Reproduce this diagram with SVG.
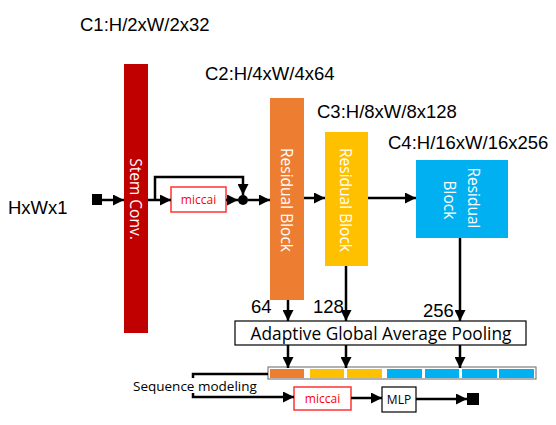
<svg xmlns="http://www.w3.org/2000/svg" width="556" height="425" viewBox="0 0 556 425">
<style>
.lbl{font-family:"Liberation Sans",Arial,sans-serif;font-size:18.5px;fill:#000}
.blk{font-family:"Open Sans","Noto Sans",sans-serif;font-size:15.5px;fill:#fff}
.ln{fill:none;stroke:#000;stroke-width:2.5}
.mic{fill:#fff;stroke:#ff3333;stroke-width:1.5}
.mict{font-family:"Open Sans","Noto Sans",sans-serif;font-size:12px;fill:#ff0000}
.sans{font-family:"Open Sans","Noto Sans",sans-serif;fill:#000}
</style>
<defs>
<marker id="ah" viewBox="0 0 10 10" refX="10" refY="5" markerWidth="12" markerHeight="11" markerUnits="userSpaceOnUse" orient="auto">
<path d="M0,0 L10,5 L0,10 Z" fill="#000"/>
</marker>
</defs>
<rect width="556" height="425" fill="#fff"/>

<g id="labels">
<text class="lbl" x="8" y="214" font-size="19">HxWx1</text>
<text class="lbl" x="80" y="31">C1:H/2xW/2x32</text>
<text class="lbl" x="205" y="80">C2:H/4xW/4x64</text>
<text class="lbl" x="317" y="118">C3:H/8xW/8x128</text>
<text class="lbl" x="388" y="149">C4:H/16xW/16x256</text>
<text class="lbl" x="251" y="313">64</text>
<text class="lbl" x="313" y="313">128</text>
<text class="lbl" x="423" y="317">256</text>
</g>

<g id="input">
<rect x="92" y="194" width="10" height="11" fill="#000"/>
</g>

<g id="stem">
<rect x="124" y="64" width="24" height="269" fill="#c00000"/>
<text class="blk" transform="translate(136,199) rotate(90)" text-anchor="middle" dominant-baseline="central">Stem Conv.</text>
</g>

<g id="miccai1">
<rect class="mic" x="171" y="187" width="55" height="25"/>
<text class="mict" x="198.5" y="204" text-anchor="middle">miccai</text>
</g>

<g id="junction">
<circle cx="243" cy="200" r="5" fill="#000"/>
</g>

<g id="res1">
<rect x="270" y="98" width="34" height="202" fill="#ed7d31"/>
<text class="blk" transform="translate(287,200) rotate(90)" text-anchor="middle" dominant-baseline="central">Residual Block</text>
</g>

<g id="res2">
<rect x="325" y="132" width="43" height="134" fill="#ffc000"/>
<text class="blk" transform="translate(346,200) rotate(90)" text-anchor="middle" dominant-baseline="central">Residual Block</text>
</g>

<g id="res3">
<rect x="416" y="160" width="92" height="78" fill="#00b0f0"/>
<text class="blk" transform="translate(461,200) rotate(90)" text-anchor="middle">
<tspan x="0" y="-7">Residual</tspan>
<tspan x="0" y="17">Block</tspan>
</text>
</g>

<g id="pool">
<rect x="235" y="321" width="291" height="24" fill="#fff" stroke="#000" stroke-width="1.2"/>
<text class="sans" x="381" y="339.5" text-anchor="middle" font-size="17.3">Adaptive Global Average Pooling</text>
</g>

<g id="bar">
<rect x="268" y="367" width="268" height="12" fill="#fff" stroke="#7f7f7f" stroke-width="1.2"/>
<rect x="270" y="369" width="34" height="9" fill="#ed7d31"/>
<rect x="310" y="369" width="34" height="9" fill="#ffc000"/>
<rect x="347" y="369" width="35" height="9" fill="#ffc000"/>
<rect x="387" y="369" width="35" height="9" fill="#00b0f0"/>
<rect x="425" y="369" width="34" height="9" fill="#00b0f0"/>
<rect x="462" y="369" width="35" height="9" fill="#00b0f0"/>
<rect x="499" y="369" width="35" height="9" fill="#00b0f0"/>
</g>

<g id="seqlabel">
<text class="sans" x="133" y="391" font-size="13.5">Sequence modeling</text>
</g>

<g id="miccai2">
<rect class="mic" x="294" y="387" width="57" height="23"/>
<text class="mict" x="322.5" y="403" text-anchor="middle">miccai</text>
</g>

<g id="mlp">
<rect x="382" y="387" width="34" height="25" fill="#fff" stroke="#000" stroke-width="1.2"/>
<text class="sans" x="399" y="404" text-anchor="middle" font-size="12">MLP</text>
</g>

<g id="output">
<rect x="467" y="393" width="12" height="12" fill="#000"/>
</g>

<g id="connectors">
<path class="ln" d="M102,200 H124" marker-end="url(#ah)"/>
<path class="ln" d="M148,200 H171" marker-end="url(#ah)"/>
<path class="ln" d="M155,200 V177 H243 V195" marker-end="url(#ah)"/>
<path class="ln" d="M226,200 H238" marker-end="url(#ah)"/>
<path class="ln" d="M248,200 H270" marker-end="url(#ah)"/>
<path class="ln" d="M304,198 H325" marker-end="url(#ah)"/>
<path class="ln" d="M368,198 H416" marker-end="url(#ah)"/>
<path class="ln" d="M288,300 V321" marker-end="url(#ah)"/>
<path class="ln" d="M346,266 V321" marker-end="url(#ah)"/>
<path class="ln" d="M460,238 V321" marker-end="url(#ah)"/>
<path class="ln" d="M288,345 V368" marker-end="url(#ah)"/>
<path class="ln" d="M346,345 V368" marker-end="url(#ah)"/>
<path class="ln" d="M460,345 V368" marker-end="url(#ah)"/>
<path class="ln" d="M193,378 V374 H268"/>
<path class="ln" d="M193,393 V397 H294" marker-end="url(#ah)"/>
<path class="ln" d="M351,398 H382" marker-end="url(#ah)"/>
<path class="ln" d="M416,399 H467" marker-end="url(#ah)"/>
</g>
</svg>
